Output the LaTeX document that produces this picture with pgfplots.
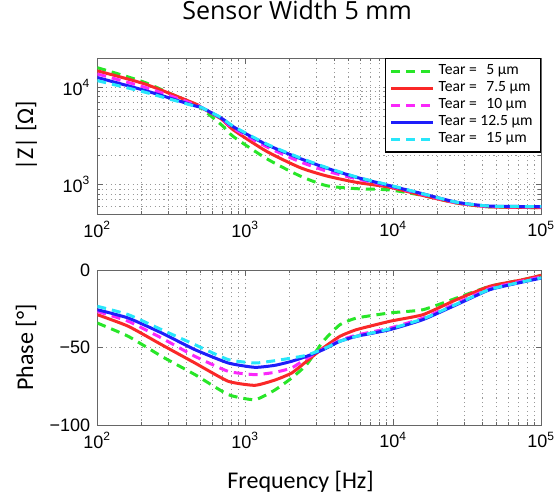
\documentclass[border=0pt]{standalone}
\usepackage{fontspec}
\setmainfont{Carlito}
\newfontfamily\titlefont{Open Sans}
\newfontfamily\tickfont{Liberation Sans}
\usepackage{pgfplots}
\usepackage{pgfplotstable}
\pgfplotsset{compat=1.18}
\definecolor{cG}{RGB}{40,230,40}
\definecolor{cR}{RGB}{250,40,40}
\definecolor{cM}{RGB}{250,40,250}
\definecolor{cB}{RGB}{30,30,250}
\definecolor{cC}{RGB}{40,230,250}

\pgfplotstableread{
f      g      r      m      b      c
100    15900  14750  13700  12600  11700
210    11200  10800  10000  9270   8900
457    6600   6800   6650   6450   6400
500    6150   6250   6250   6250   6250
692    4100   4700   4750   4800   4850
828    3130   3660   3800   3940   3990
1393   1850   2200   2450   2580   2620
2339   1230   1500   1720   1860   1890
3540   977    1230   1380   1480   1500
5636   910    1057   1150   1190   1200
9462   883    940    966    977    989
15890  774    774    794    805    805
26730  649    649    655    661    661
44870  592    592    598    603    603
100000 582    582    590    596    596
}\magdata

\pgfplotstableread{
f      g      r      m      b      c
100    -34.2  -28.8  -26.7  -25.6  -23.4
162    -42.8  -36.3  -33.1  -31.0  -28.8
272    -55.7  -48.2  -43.9  -40.6  -38.5
457    -67.5  -60.0  -55.7  -51.4  -48.2
767    -80.4  -71.8  -65.4  -60.0  -57.8
1161   -83.7  -74.4  -67.5  -62.8  -60.0
1585   -77.4  -71.0  -66.0  -61.5  -58.5
2056   -69.7  -66.5  -63.2  -58.9  -56.8
2594   -61.1  -58.9  -57.0  -55.7  -55.0
3357   -46.0  -50.3  -51.0  -51.4  -51.0
4355   -35.3  -42.8  -45.5  -46.0  -46.0
5636   -31.0  -38.5  -42.0  -42.8  -42.8
9462   -27.7  -33.1  -37.5  -38.5  -38.0
15890  -25.6  -28.8  -31.0  -32.0  -31.5
26730  -18.1  -19.1  -21.5  -22.4  -22.0
44870  -10.5  -10.5  -12.0  -12.7  -12.5
75340  -6.2   -6.2   -7.0   -7.7   -7.5
100000 -3.5   -3.4   -4.5   -5.2   -5.0
}\phdata

\tikzset{
  gl/.style={cG, line width=1.5pt, dash pattern=on 4.5pt off 3pt},
  rl/.style={cR, line width=1.5pt},
  ml/.style={cM, line width=1.5pt, dash pattern=on 4.5pt off 3pt},
  bl/.style={cB, line width=1.5pt},
  cl/.style={cC, line width=1.5pt, dash pattern=on 4.5pt off 3pt},
}
\pgfplotsset{
  mybase/.style={
    width=222pt, scale only axis,
    xmin=100, xmax=100000,
    axis line style={black!60},
    every tick/.style={black!60},
    tick align=inside, major tick length=2.8pt, minor tick length=1.5pt,
    grid style={dash pattern=on 0.6pt off 1.6pt, black!40},
    minor grid style={dash pattern=on 0.6pt off 1.6pt, black!40},
    tick label style={font=\fontsize{9}{10}\tickfont},
    xtick={100,1000,10000,100000},
    xticklabels={10\textsuperscript{2},10\textsuperscript{3},10\textsuperscript{4},10\textsuperscript{5}},
    minor xtick={200,300,400,500,600,700,800,900,2000,3000,4000,5000,6000,7000,8000,9000,20000,30000,40000,50000,60000,70000,80000,90000},
    xmajorgrids, xminorgrids,
    label style={font=\fontsize{12}{14}\selectfont},
  },
}

\begin{document}
\begin{tikzpicture}
\useasboundingbox (-48.65pt,-34pt) rectangle (228.85pt,212.5pt);

\begin{loglogaxis}[mybase,
  at={(0pt,105.5pt)}, height=78pt,
  ymin=500, ymax=20000,
  ytick={1000,10000},
  yticklabels={10\textsuperscript{3},10\textsuperscript{4}},
  minor ytick={600,700,800,900,2000,3000,4000,5000,6000,7000,8000,9000},
  ymajorgrids, yminorgrids,
  title={\titlefont\fontsize{12.5}{14}\selectfont Sensor Width 5 mm},
  title style={at={(axis description cs:0.45,1)}, anchor=base, yshift=13pt},
  ylabel={|Z| [Ω]},
  ylabel style={at={(axis description cs:-0.1447,0.5)}, anchor=base},
  legend style={at={(1,1)}, anchor=north east, draw=black, line width=0.7pt,
    font=\fontsize{7.8}{9}\selectfont, inner xsep=2pt, inner ysep=1pt,
    cells={anchor=west}, row sep=-2pt},
  legend image code/.code={\draw[#1] (0pt,0pt) -- (21pt,0pt);},
]
\addplot[gl, smooth, tension=0.4] table[x=f,y=g] {\magdata};
\addplot[rl, smooth, tension=0.4] table[x=f,y=r] {\magdata};
\addplot[ml, smooth, tension=0.4] table[x=f,y=m] {\magdata};
\addplot[bl, smooth, tension=0.4] table[x=f,y=b] {\magdata};
\addplot[cl, smooth, tension=0.4] table[x=f,y=c] {\magdata};
\legend{Tear =\hspace{3pt} 5 µm, Tear =\hspace{3pt} 7.5 µm, Tear =\hspace{3pt} 10 µm, Tear = 12.5 µm, Tear =\hspace{3pt} 15 µm}
\end{loglogaxis}

\begin{semilogxaxis}[mybase,
  at={(0pt,0pt)}, height=77.5pt,
  ymin=-100, ymax=0,
  ytick={-100,-50,0},
  yticklabels={−100,−50,0},
  ymajorgrids,
  xlabel={Frequency [Hz]},
  xlabel style={at={(axis description cs:0.458,0)}, anchor=base, yshift=-31.6pt},
  ylabel={Phase [°]},
  ylabel style={at={(axis description cs:-0.1447,0.5)}, anchor=base},
]
\addplot[gl, smooth, tension=0.3] table[x=f,y=g] {\phdata};
\addplot[rl, smooth, tension=0.3] table[x=f,y=r] {\phdata};
\addplot[ml, smooth, tension=0.3] table[x=f,y=m] {\phdata};
\addplot[bl, smooth, tension=0.3] table[x=f,y=b] {\phdata};
\addplot[cl, smooth, tension=0.3] table[x=f,y=c] {\phdata};
\end{semilogxaxis}
\end{tikzpicture}
\end{document}
